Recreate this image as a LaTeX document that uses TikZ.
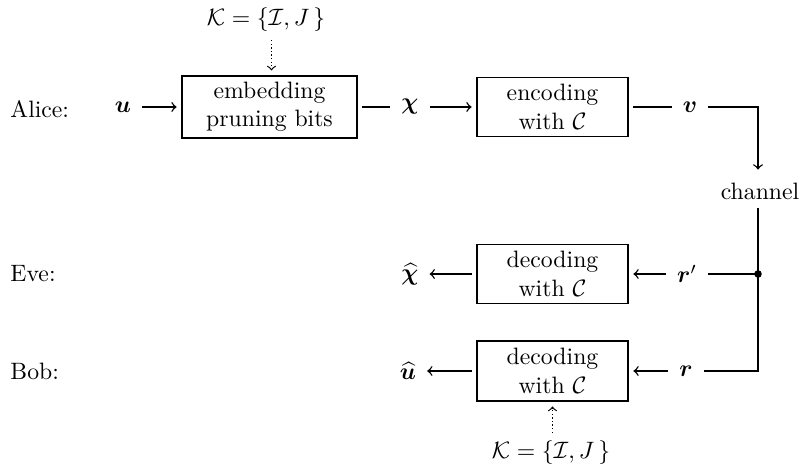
\documentclass[tikz,border=0pt]{standalone}
\usepackage{amsmath,amssymb,bm}
\begin{document}
\begin{tikzpicture}[x=0.4219pt,y=-0.4219pt,
  blk/.style={draw,line width=0.6pt,align=center,inner sep=1pt},
  sig/.style={inner sep=2.5pt},
  lbl/.style={anchor=west,inner sep=0pt},
  flow/.style={line width=0.6pt,shorten >=2pt,shorten <=2pt},
  keyarr/.style={densely dotted,line width=0.5pt,->}]
\useasboundingbox (0,0) rectangle (800,466);

% party labels
\node[lbl] (alice) at (10,109) {Alice:};
\node[lbl] (eve)   at (10,274) {Eve:};
\node[lbl] (bob)   at (10,371) {Bob:};

% processing blocks
\node[blk,minimum width=73.8pt,minimum height=26.2pt] (emb) at (269.5,107) {embedding\\pruning bits};
\node[blk,minimum width=63.7pt,minimum height=24.9pt] (enc) at (552.5,107) {encoding\\with $\mathcal{C}$};
\node[blk,minimum width=63.7pt,minimum height=24.9pt] (dece) at (552.5,274) {decoding\\with $\mathcal{C}$};
\node[blk,minimum width=63.7pt,minimum height=25.3pt] (decb) at (552.5,371) {decoding\\with $\mathcal{C}$};

% signals
\node[sig] (u)    at (123,107) {$\bm{u}$};
\node[sig] (chi)  at (410,107) {$\bm{\chi}$};
\node[sig] (v)    at (690,107) {$\bm{v}$};
\node[sig] (rp)   at (687,274) {$\bm{r}'$};
\node[sig] (r)    at (686,371) {$\bm{r}$};
\node[sig] (chih) at (410,274) {$\widehat{\bm{\chi}}$};
\node[sig] (uh)   at (408,371) {$\widehat{\bm{u}}$};
\node (chan) at (760,191) {channel};

% keys
\node (kt) at (266,20) {$\mathcal{K}=\{\mathcal{I},J\,\}$};
\node (kb) at (551,453) {$\mathcal{K}=\{\mathcal{I},J\,\}$};

\coordinate (vc)  at (758,107);
\coordinate (tap) at (758,274);
\coordinate (bc)  at (758,371);

% Alice
\draw[flow,->] (u) -- (emb);
\draw[flow] (emb) -- (chi);
\draw[flow,->] (chi) -- (enc);
\draw[flow] (enc) -- (v);
\draw[flow,->] (v) -- (vc) -- (chan.north -| vc);

% channel outputs
\draw[flow,shorten <=0pt] (chan.south -| vc) -- (bc) -- (r);
\fill (tap) circle (1.6pt);
\draw[flow,shorten <=0pt] (tap) -- (rp);
\draw[flow,->] (rp) -- (dece);
\draw[flow,->] (r) -- (decb);
\draw[flow,->] (dece) -- (chih);
\draw[flow,->] (decb) -- (uh);

% key inputs
\draw[keyarr,shorten >=2pt] (kt.south -| emb.north) ++(2,0) -- ++(0,35);
\draw[keyarr,shorten >=2pt] (kb.north -| decb.south) -- (decb.south);
\end{tikzpicture}
\end{document}
